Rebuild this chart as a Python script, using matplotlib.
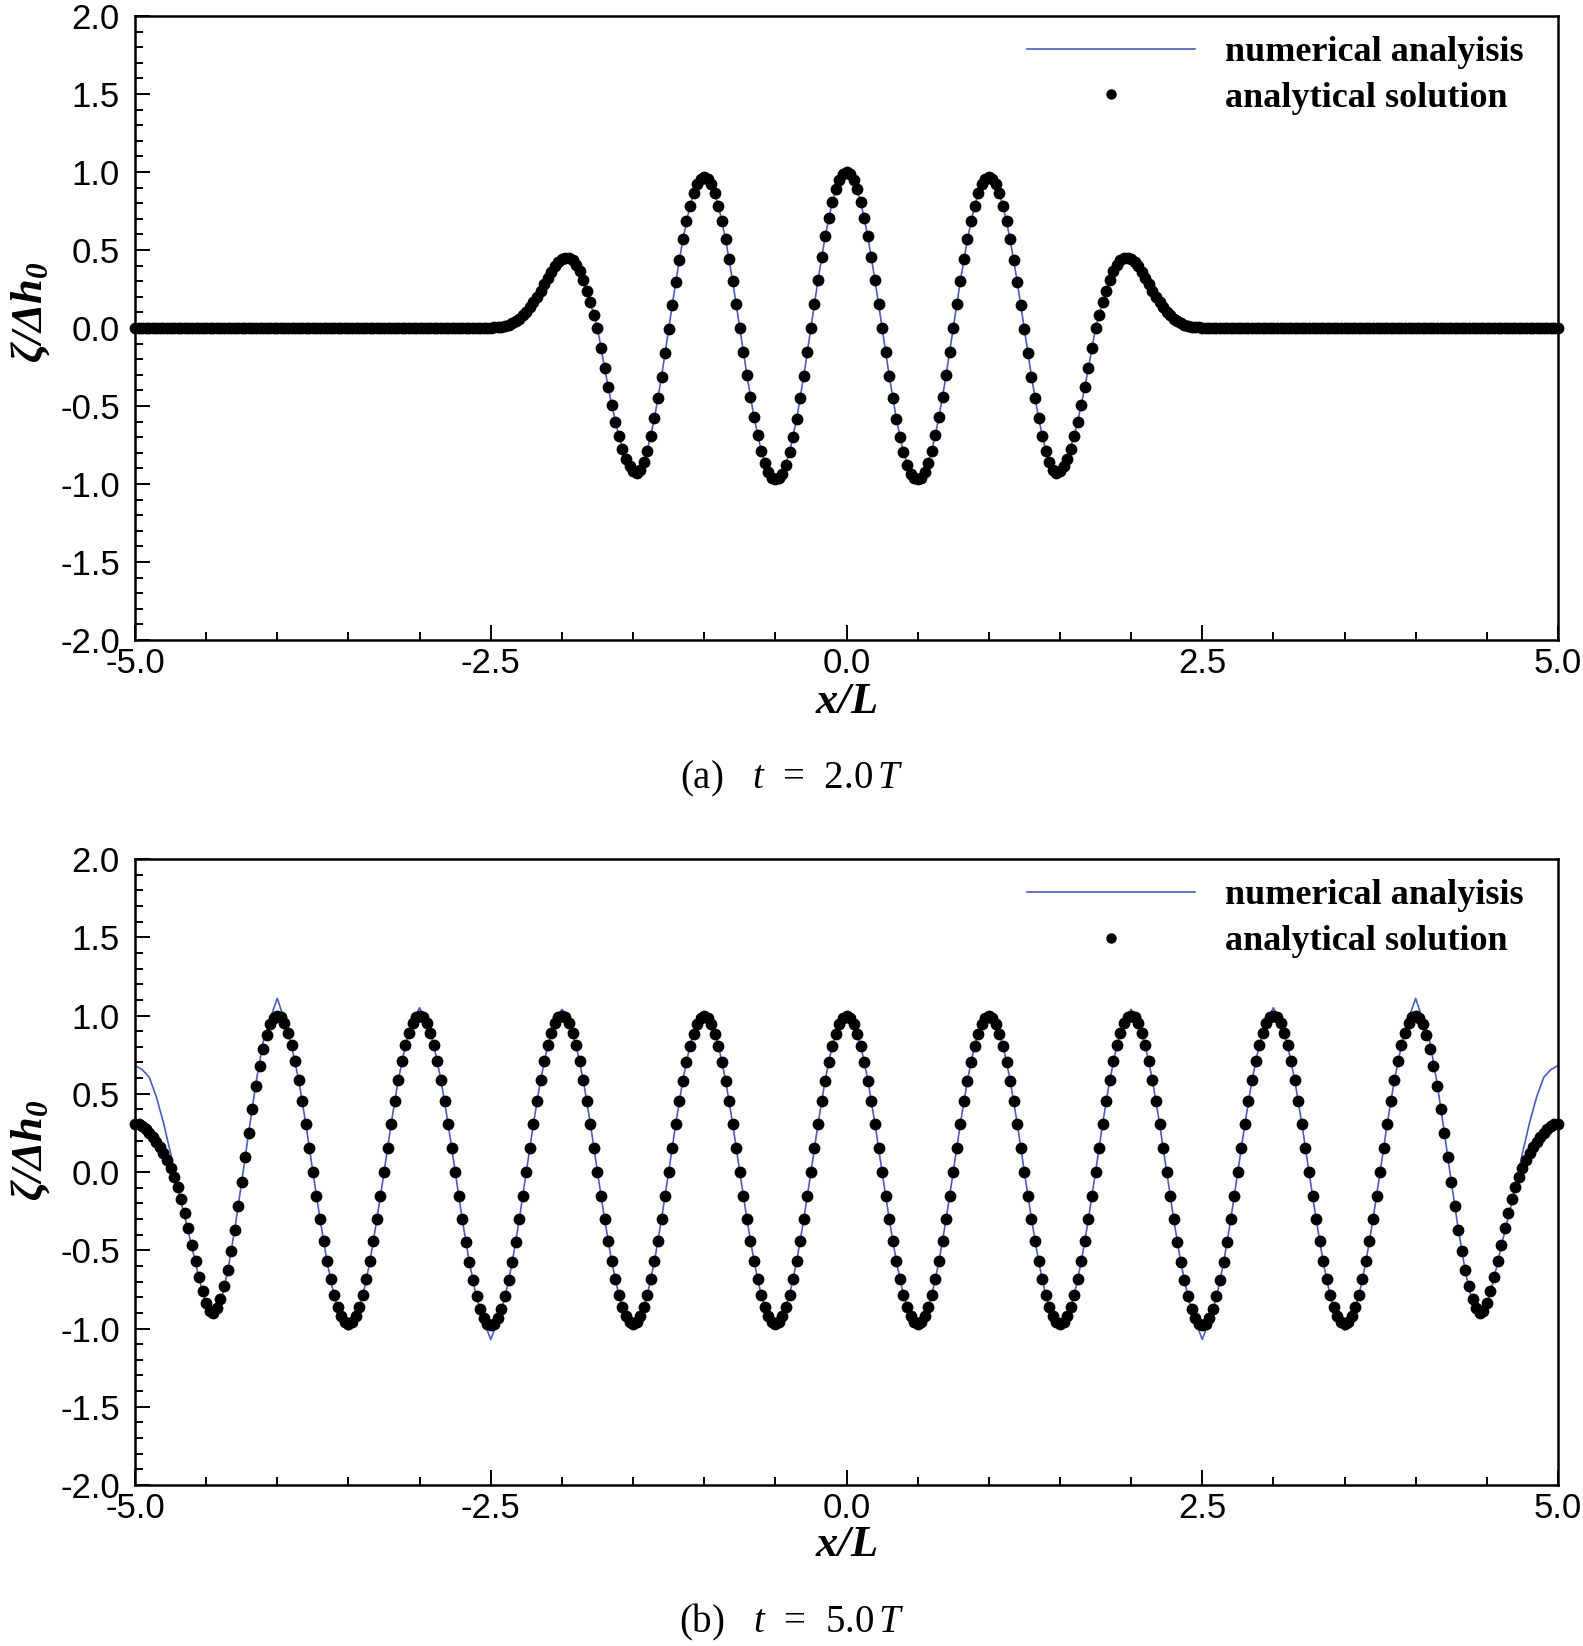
import numpy as np
import matplotlib
matplotlib.use("Agg")
import matplotlib.pyplot as plt
from matplotlib.ticker import MultipleLocator, FormatStrFormatter
from matplotlib.lines import Line2D

# ---------------- data ----------------
# (a) t = 2.0T : analytical solution, x/L = -5 ... 5 step 0.025
analytical_a = [
    0, 0, 0, 0, 0, 0, 0, 0, 0, 0, 0, 0, 0, 0, 0, 0, 0, 0, 0, 0,
    0, 0, 0, 0, 0, 0, 0, 0, 0, 0, 0, 0, 0, 0, 0, 0, 0, 0, 0, 0,
    0, 0, 0, 0, 0, 0, 0, 0, 0, 0, 0, 0, 0, 0, 0, 0, 0, 0, 0, 0,
    0, 0, 0, 0, 0, 0, 0, 0, 0, 0, 0, 0, 0, 0, 0, 0, 0, 0, 0, 0,
    0, 0, 0, 0, 0, 0, 0, 0, 0, 0, 0, 0, 0, 0, 0, 0, 0, 0, 0, 0,
    0.001, 0.003, 0.005, 0.009, 0.014, 0.021, 0.031, 0.044, 0.060, 0.080,
    0.105, 0.133, 0.165, 0.200, 0.240, 0.280, 0.320, 0.360, 0.395, 0.420,
    0.440, 0.449, 0.449, 0.435, 0.405, 0.362, 0.306, 0.239, 0.164, 0.084,
    0.000, -0.130, -0.258, -0.380, -0.494, -0.600, -0.694, -0.773, -0.838, -0.886,
    -0.917, -0.930, -0.910, -0.860, -0.786, -0.692, -0.580, -0.452, -0.312, -0.162,
    -0.008, 0.145, 0.295, 0.437, 0.568, 0.684, 0.784, 0.863, 0.922, 0.958,
    0.970, 0.958, 0.922, 0.863, 0.784, 0.685, 0.570, 0.440, 0.300, 0.152,
    0.000, -0.152, -0.301, -0.441, -0.572, -0.687, -0.786, -0.867, -0.926, -0.960,
    -0.970, -0.963, -0.933, -0.876, -0.797, -0.698, -0.581, -0.449, -0.306, -0.155,
    0.000, 0.155, 0.308, 0.453, 0.587, 0.707, 0.809, 0.891, 0.951, 0.988,
    1.000, 0.988, 0.951, 0.891, 0.809, 0.707, 0.587, 0.453, 0.308, 0.155,
    0.000, -0.155, -0.306, -0.449, -0.581, -0.698, -0.797, -0.876, -0.933, -0.963,
    -0.970, -0.960, -0.926, -0.867, -0.786, -0.687, -0.572, -0.441, -0.301, -0.152,
    0.000, 0.152, 0.300, 0.440, 0.570, 0.685, 0.784, 0.863, 0.922, 0.958,
    0.970, 0.958, 0.922, 0.863, 0.784, 0.684, 0.568, 0.437, 0.295, 0.145,
    -0.008, -0.162, -0.312, -0.452, -0.580, -0.692, -0.786, -0.860, -0.910, -0.930,
    -0.917, -0.886, -0.838, -0.773, -0.694, -0.600, -0.494, -0.380, -0.258, -0.130,
    0.000, 0.084, 0.164, 0.239, 0.306, 0.362, 0.405, 0.435, 0.449, 0.449,
    0.440, 0.420, 0.395, 0.360, 0.320, 0.280, 0.240, 0.200, 0.165, 0.133,
    0.105, 0.080, 0.060, 0.044, 0.031, 0.021, 0.014, 0.009, 0.005, 0.003,
    0.001,
    0, 0, 0, 0, 0, 0, 0, 0, 0, 0, 0, 0, 0, 0, 0, 0, 0, 0, 0, 0,
    0, 0, 0, 0, 0, 0, 0, 0, 0, 0, 0, 0, 0, 0, 0, 0, 0, 0, 0, 0,
    0, 0, 0, 0, 0, 0, 0, 0, 0, 0, 0, 0, 0, 0, 0, 0, 0, 0, 0, 0,
    0, 0, 0, 0, 0, 0, 0, 0, 0, 0, 0, 0, 0, 0, 0, 0, 0, 0, 0, 0,
    0, 0, 0, 0, 0, 0, 0, 0, 0, 0, 0, 0, 0, 0, 0, 0, 0, 0, 0, 0,
]

# (a) t = 2.0T : numerical analysis, x/L = -5 ... 5 step 0.05
numerical_a = [
    0, 0, 0, 0, 0, 0, 0, 0, 0, 0, 0, 0, 0, 0, 0, 0, 0, 0, 0, 0, 0, 0, 0, 0, 0,
    0, 0, 0, 0, 0, 0, 0, 0, 0, 0, 0, 0, 0, 0, 0, 0, 0, 0, 0, 0, 0, 0, 0, 0, 0,
    0.001, 0.005, 0.014, 0.031, 0.060, 0.105, 0.165, 0.240, 0.320, 0.395,
    0.440, 0.449, 0.405, 0.306, 0.164, 0.000, -0.258, -0.494, -0.694, -0.838,
    -0.917, -0.910, -0.786, -0.580, -0.312, -0.008, 0.295, 0.568, 0.784, 0.922,
    0.970, 0.922, 0.784, 0.570, 0.300, 0.000, -0.301, -0.572, -0.786, -0.926,
    -0.970, -0.933, -0.797, -0.581, -0.306, 0.000, 0.308, 0.587, 0.809, 0.951,
    1.000, 0.951, 0.809, 0.587, 0.308, 0.000, -0.306, -0.581, -0.797, -0.933,
    -0.970, -0.926, -0.786, -0.572, -0.301, 0.000, 0.300, 0.570, 0.784, 0.922,
    0.970, 0.922, 0.784, 0.568, 0.295, -0.008, -0.312, -0.580, -0.786, -0.910,
    -0.917, -0.838, -0.694, -0.494, -0.258, 0.000, 0.164, 0.306, 0.405, 0.449,
    0.440, 0.395, 0.320, 0.240, 0.165, 0.105, 0.060, 0.031, 0.014, 0.005,
    0.001,
    0, 0, 0, 0, 0, 0, 0, 0, 0, 0, 0, 0, 0, 0, 0, 0, 0, 0, 0, 0, 0, 0, 0, 0, 0,
    0, 0, 0, 0, 0, 0, 0, 0, 0, 0, 0, 0, 0, 0, 0, 0, 0, 0, 0, 0, 0, 0, 0, 0, 0,
]

# (b) t = 5.0T : analytical solution, x/L = -5 ... 5 step 0.025
analytical_b = [
    0.310, 0.305, 0.292, 0.275, 0.252, 0.225, 0.195, 0.160, 0.120, 0.075,
    0.025, -0.030, -0.095, -0.170, -0.260, -0.360, -0.465, -0.570, -0.670, -0.760,
    -0.835, -0.885, -0.900, -0.870, -0.810, -0.728, -0.625, -0.505, -0.368, -0.220,
    -0.065, 0.093, 0.250, 0.405, 0.548, 0.676, 0.786, 0.876, 0.944, 0.985,
    1.000,
    # -3.975 ... -3.000
    0.988, 0.951, 0.891, 0.809, 0.707, 0.588, 0.454, 0.309, 0.156, 0.000,
    -0.151, -0.300, -0.440, -0.570, -0.686, -0.785, -0.864, -0.922, -0.958, -0.970,
    -0.958, -0.922, -0.864, -0.785, -0.686, -0.570, -0.440, -0.300, -0.151, 0.000,
    0.156, 0.309, 0.454, 0.588, 0.707, 0.809, 0.891, 0.951, 0.988, 1.000,
    # -2.975 ... -2.000
    0.988, 0.951, 0.891, 0.809, 0.707, 0.588, 0.454, 0.309, 0.156, 0.000,
    -0.152, -0.303, -0.445, -0.576, -0.693, -0.793, -0.873, -0.932, -0.968, -0.980,
    -0.968, -0.932, -0.873, -0.793, -0.693, -0.576, -0.445, -0.303, -0.152, 0.000,
    0.156, 0.309, 0.454, 0.588, 0.707, 0.809, 0.891, 0.951, 0.988, 1.000,
    # -1.975 ... -1.000
    0.988, 0.951, 0.891, 0.809, 0.707, 0.588, 0.454, 0.309, 0.156, 0.000,
    -0.151, -0.300, -0.440, -0.570, -0.686, -0.785, -0.864, -0.922, -0.958, -0.970,
    -0.958, -0.922, -0.864, -0.785, -0.686, -0.570, -0.440, -0.300, -0.151, 0.000,
    0.155, 0.307, 0.451, 0.584, 0.703, 0.804, 0.885, 0.945, 0.982, 0.995,
    # -0.975 ... 0.000
    0.982, 0.945, 0.885, 0.804, 0.703, 0.584, 0.451, 0.307, 0.155, 0.000,
    -0.151, -0.300, -0.440, -0.570, -0.686, -0.785, -0.864, -0.922, -0.958, -0.970,
    -0.958, -0.922, -0.864, -0.785, -0.686, -0.570, -0.440, -0.300, -0.151, 0.000,
    0.155, 0.307, 0.451, 0.584, 0.703, 0.804, 0.885, 0.945, 0.982, 0.995,
    # 0.025 ... 1.000
    0.982, 0.945, 0.885, 0.804, 0.703, 0.584, 0.451, 0.307, 0.155, 0.000,
    -0.151, -0.300, -0.440, -0.570, -0.686, -0.785, -0.864, -0.922, -0.958, -0.970,
    -0.958, -0.922, -0.864, -0.785, -0.686, -0.570, -0.440, -0.300, -0.151, 0.000,
    0.155, 0.307, 0.451, 0.584, 0.703, 0.804, 0.885, 0.945, 0.982, 0.995,
    # 1.025 ... 2.000
    0.982, 0.945, 0.885, 0.804, 0.703, 0.584, 0.451, 0.307, 0.155, 0.000,
    -0.151, -0.300, -0.440, -0.570, -0.686, -0.785, -0.864, -0.922, -0.958, -0.970,
    -0.958, -0.922, -0.864, -0.785, -0.686, -0.570, -0.440, -0.300, -0.151, 0.000,
    0.156, 0.309, 0.454, 0.588, 0.707, 0.809, 0.891, 0.951, 0.988, 1.000,
    # 2.025 ... 3.000
    0.988, 0.951, 0.891, 0.809, 0.707, 0.588, 0.454, 0.309, 0.156, 0.000,
    -0.152, -0.303, -0.445, -0.576, -0.693, -0.793, -0.873, -0.932, -0.968, -0.980,
    -0.968, -0.932, -0.873, -0.793, -0.693, -0.576, -0.445, -0.303, -0.152, 0.000,
    0.156, 0.309, 0.454, 0.588, 0.707, 0.809, 0.891, 0.951, 0.988, 1.000,
    # 3.025 ... 4.000
    0.988, 0.951, 0.891, 0.809, 0.707, 0.588, 0.454, 0.309, 0.156, 0.000,
    -0.151, -0.300, -0.440, -0.570, -0.686, -0.785, -0.864, -0.922, -0.958, -0.970,
    -0.958, -0.922, -0.864, -0.785, -0.686, -0.570, -0.440, -0.300, -0.151, 0.000,
    0.156, 0.309, 0.454, 0.588, 0.707, 0.809, 0.891, 0.951, 0.988, 1.000,
    # 4.025 ... 5.000
    0.985, 0.944, 0.876, 0.786, 0.676, 0.548, 0.405, 0.250, 0.093, -0.065,
    -0.220, -0.368, -0.505, -0.625, -0.728, -0.810, -0.870, -0.900, -0.885, -0.835,
    -0.760, -0.670, -0.570, -0.465, -0.360, -0.260, -0.170, -0.095, -0.030, 0.025,
    0.075, 0.120, 0.160, 0.195, 0.225, 0.252, 0.275, 0.292, 0.305, 0.310,
]

# (b) t = 5.0T : numerical analysis, x/L = -5 ... 5 step 0.05
numerical_b = [
    0.680, 0.655, 0.605, 0.480, 0.315, 0.120, -0.100, -0.290, -0.480, -0.680,
    -0.850, -0.930, -0.840, -0.640, -0.370, -0.060, 0.260, 0.570, 0.830, 0.980,
    1.110,
    0.970, 0.809, 0.588, 0.309, 0.000, -0.300, -0.575, -0.795, -0.935, -1.010,
    -0.935, -0.795, -0.575, -0.300, 0.000, 0.309, 0.588, 0.809, 0.960, 1.050,
    0.960, 0.809, 0.588, 0.309, 0.000, -0.305, -0.580, -0.800, -0.950, -1.070,
    -0.950, -0.800, -0.580, -0.305, 0.000, 0.309, 0.588, 0.809, 0.955, 1.040,
    0.955, 0.809, 0.588, 0.309, 0.000, -0.300, -0.572, -0.787, -0.925, -0.990,
    -0.925, -0.787, -0.572, -0.300, 0.000, 0.309, 0.588, 0.809, 0.951, 1.000,
    0.951, 0.809, 0.588, 0.309, 0.000, -0.300, -0.570, -0.785, -0.925, -0.980,
    -0.925, -0.785, -0.570, -0.300, 0.000, 0.309, 0.588, 0.809, 0.951, 1.000,
    0.951, 0.809, 0.588, 0.309, 0.000, -0.300, -0.570, -0.785, -0.925, -0.980,
    -0.925, -0.785, -0.570, -0.300, 0.000, 0.309, 0.588, 0.809, 0.951, 1.000,
    0.951, 0.809, 0.588, 0.309, 0.000, -0.300, -0.572, -0.787, -0.925, -0.990,
    -0.925, -0.787, -0.572, -0.300, 0.000, 0.309, 0.588, 0.809, 0.955, 1.040,
    0.955, 0.809, 0.588, 0.309, 0.000, -0.305, -0.580, -0.800, -0.950, -1.070,
    -0.950, -0.800, -0.580, -0.305, 0.000, 0.309, 0.588, 0.809, 0.960, 1.050,
    0.960, 0.809, 0.588, 0.309, 0.000, -0.300, -0.575, -0.795, -0.935, -1.010,
    -0.935, -0.795, -0.575, -0.300, 0.000, 0.309, 0.588, 0.809, 0.980, 1.110,
    0.970, 0.830, 0.570, 0.260, -0.060, -0.370, -0.640, -0.840, -0.930, -0.850,
    -0.680, -0.480, -0.290, -0.100, 0.120, 0.315, 0.480, 0.605, 0.655, 0.680,
]

x_range = (-5.0, 5.0)
y_range = (-2.0, 2.0)
legend_labels = ["numerical analyisis", "analytical solution"]
captions = [r"(a)   $t$  =  2.0$\,T$", r"(b)   $t$  =  5.0$\,T$"]

# ---------------- style ----------------
plt.rcParams.update({
    "font.family": ["Liberation Sans", "DejaVu Sans"],
    "axes.unicode_minus": False,
    "mathtext.fontset": "custom",
    "mathtext.rm": "Liberation Serif",
    "mathtext.it": "Liberation Serif:italic",
    "mathtext.bf": "Liberation Serif:italic:bold",
})

LINE_COLOR = "#4a5cc4"

fig = plt.figure(figsize=(15.83, 16.46), dpi=100)
ax1 = fig.add_axes([0.0853, 0.6112, 0.8989, 0.3791])
ax2 = fig.add_axes([0.0853, 0.0978, 0.8989, 0.3803])


def draw_panel(ax, num, ana):
    xn = np.linspace(x_range[0], x_range[1], len(num))
    xa = np.linspace(x_range[0], x_range[1], len(ana))
    ax.plot(xn, num, color=LINE_COLOR, lw=1.2, zorder=2)
    ax.plot(xa, ana, ls="none", marker="o", ms=8.5, mfc="black",
            mec="black", mew=0, zorder=3, clip_on=False)
    ax.set_xlim(*x_range)
    ax.set_ylim(*y_range)
    for s in ax.spines.values():
        s.set_linewidth(1.8)
    ax.xaxis.set_major_locator(MultipleLocator(2.5))
    ax.xaxis.set_minor_locator(MultipleLocator(0.5))
    ax.yaxis.set_major_locator(MultipleLocator(0.5))
    ax.yaxis.set_minor_locator(MultipleLocator(0.1))
    ax.xaxis.set_major_formatter(FormatStrFormatter("%.1f"))
    ax.yaxis.set_major_formatter(FormatStrFormatter("%.1f"))
    ax.tick_params(which="both", direction="in", top=False, right=False,
                   width=1.4, labelsize=25)
    ax.tick_params(which="major", length=11)
    ax.tick_params(which="minor", length=6)
    ax.tick_params(axis="y", which="major", pad=11)
    ax.tick_params(axis="x", which="major", pad=5)
    handles = [
        Line2D([], [], color=LINE_COLOR, lw=1.2),
        Line2D([], [], ls="none", marker="o", ms=7.5, mfc="black", mec="black", mew=0),
    ]
    ax.legend(handles, legend_labels, loc="upper left",
              bbox_to_anchor=(0.627, 0.968), frameon=False, borderpad=0,
              borderaxespad=0, handlelength=4.65, handletextpad=0.83,
              labelspacing=0.35,
              prop={"family": "Liberation Serif", "weight": "bold", "size": 26})


draw_panel(ax1, numerical_a, analytical_a)
draw_panel(ax2, numerical_b, analytical_b)

# axis titles and captions
for yl, xl, cap, ycap in [(0.8104, 0.574, captions[0], 0.5267),
                          (0.3013, 0.0614, captions[1], 0.0146)]:
    fig.text(0.0196, yl, r"$\mathbf{\zeta/\Delta h_0}$", rotation=90,
             ha="center", va="center", fontsize=32)
    fig.text(0.5348, xl, r"$\mathbf{x/L}$", ha="center", va="center",
             fontsize=32)
    fig.text(0.5, ycap, cap, ha="center", va="center", fontsize=28,
             family="Liberation Serif")

fig.savefig("out.png", dpi=100)
